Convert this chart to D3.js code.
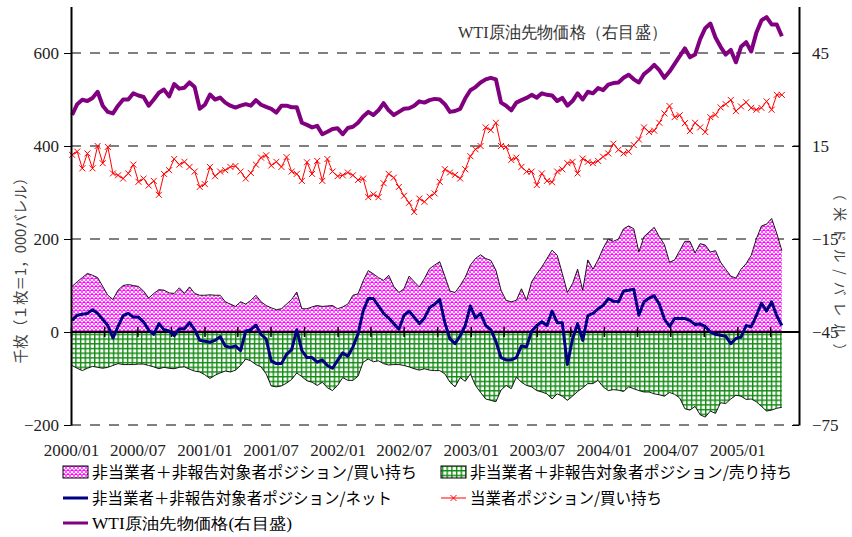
<!DOCTYPE html>
<html lang="ja">
<head>
  <meta charset="UTF-8">
  <title>非当業者・当業者ポジションとWTI原油先物価格</title>
  <script src="https://d3js.org/d3.v7.min.js"></script>
  <style>
    body { margin: 0; background: #fff; }
    svg { display: block; }
  </style>
</head>
<body>
  <div id="chart"></div>
  <script>
    // 週次データ（2週間ごと）2000/01/04 から
    const startDate = new Date(2000, 0, 4);
    const stepDays = 14;

    // 非当業者＋非報告対象者 買い持ち（千枚）
    const nonCommLong = [
      98,108,117,126,122,117,98,79,70,90, 100,102,100,98,88,73,83,91,90,84,
      83,95,83,97,83,79,79,80,79,79, 65,60,55,65,60,68,79,65,57,52,
      48,50,60,70,86,50,50,54,
      57,55,56,57,50,54,60,79,82,110, 132,125,117,111,122,98,85,93,120,108,
      97,115,136,144,151,120,88,85,100,118, 144,158,166,158,154,133,90,68,65,68,
      93,68,108,125,140,158,176,165,
      126,85,104,135,90,155,135,155,180,200, 195,200,222,228,222,172,205,215,225,205,
      188,150,155,175,195,195,170,190,187,172, 175,150,135,120,116,135,147,165,200,228,
      232,244,212,175
    ];
    // 非当業者＋非報告対象者 売り持ち（千枚）
    const nonCommShort = [
      -72,-78,-83,-78,-74,-76,-78,-76,-72,-68, -70,-70,-70,-69,-69,-72,-75,-79,-76,-78,
      -79,-76,-75,-80,-84,-86,-92,-100,-93,-88, -84,-86,-82,-72,-58,-62,-70,-75,-90,-116,
      -118,-116,-110,-102,-88,-96,-105,-108,
      -115,-108,-120,-126,-115,-98,-104,-104,-95,-65, -58,-64,-62,-68,-71,-70,-70,-72,-75,-79,
      -82,-79,-82,-83,-83,-90,-108,-118,-98,-106, -90,-115,-130,-144,-147,-150,-125,-115,-122,-97,
      -108,-115,-118,-126,-129,-133,-144,-133,
      -138,-147,-138,-128,-120,-111,-111,-104,-118,-126, -124,-125,-128,-118,-122,-126,-129,-129,-133,-135,
      -138,-130,-134,-142,-165,-168,-160,-178,-183,-170, -175,-152,-154,-144,-136,-138,-145,-144,-150,-160,
      -170,-168,-164,-162
    ];
    // 非当業者＋非報告対象者 ネット（千枚）
    const nonCommNet = [
      25,36,38,40,48,40,27,14,-13,12, 35,40,32,32,22,4,-5,18,5,2,
      -8,7,7,20,5,-18,-20,-22,-18,-10, -30,-33,-30,-40,2,5,15,-5,-15,-62,
      -68,-68,-48,-38,5,-40,-55,-55,
      -65,-60,-72,-78,-61,-45,-52,-32,-4,45, 72,72,56,40,30,18,6,36,45,32,
      18,30,52,60,70,20,-15,-25,-8,14, 56,30,40,14,5,-20,-55,-60,-60,-55,
      -30,-32,2,14,22,14,45,20,
      20,-70,-15,18,-18,35,40,50,57,72, 66,65,88,90,92,36,65,73,78,60,
      28,12,29,29,29,25,16,17,12,0, -5,-7,-9,-25,-14,-11,14,11,35,62,
      45,65,35,14
    ];
    // 当業者 買い持ち（千枚）
    const commLong = [
      381,388,352,384,352,400,363,398,341,337, 330,341,360,323,330,315,325,295,340,348,
      372,360,366,355,345,312,318,355,335,345, 348,355,357,345,330,342,360,375,380,358,
      366,355,376,345,340,325,365,340,
      368,325,372,345,335,337,343,337,327,330, 290,296,290,320,340,332,312,293,278,258,
      287,280,291,298,323,350,343,338,330,350, 378,393,400,440,434,450,400,398,370,375,
      355,345,345,316,341,325,322,345,
      350,363,366,341,373,366,363,368,377,384, 405,392,384,388,402,414,440,430,433,450,
      470,486,462,466,449,432,450,440,430,462, 467,483,490,499,475,485,494,482,478,482,
      496,478,510,510
    ];
    // WTI原油先物価格（米ドル/バレル）
    const wtiPrice = [
      25.0,28.5,29.9,29.5,30.5,32.5,28.0,26.0,25.5,28.0, 30.0,30.0,32.0,31.3,30.8,28.0,30.0,32.2,33.2,31.0,
      35.0,33.5,33.8,35.5,34.0,27.0,28.3,31.6,30.0,30.6, 29.0,28.0,27.4,28.0,28.5,28.0,29.8,28.3,27.6,27.0,
      25.8,28.0,28.0,27.5,27.5,22.5,21.8,21.0,
      21.5,18.8,19.6,20.5,20.7,18.8,20.8,21.2,22.5,24.5, 26.0,25.0,26.5,28.8,26.5,25.0,26.0,27.0,27.2,28.0,
      29.4,29.0,29.8,30.2,30.0,28.5,26.0,26.3,27.0,30.4, 33.0,34.0,35.5,36.5,37.0,36.5,29.0,28.0,26.5,29.0,
      29.8,30.5,31.5,30.6,32.0,31.5,31.3,29.5,
      30.5,28.0,29.5,32.0,30.0,32.5,32.0,33.7,33.0,34.8, 35.3,35.5,37.0,38.0,36.5,35.5,38.2,39.5,41.2,39.5,
      37.0,39.0,41.5,44.0,46.5,43.6,44.5,49.5,53.0,54.5, 50.0,47.0,44.5,46.0,42.0,47.0,48.5,45.5,51.5,55.5,
      56.6,54.2,54.2,50.4
    ];

    const leftTicks = [-200, 0, 200, 400, 600];
    const rightTicks = [-75, -45, -15, 15, 45];
    const gridValues = [-200, 200, 400, 600];

    const legendItems = [
      { label: "非当業者＋非報告対象者ポジション/買い持ち", type: "pink", col: 0, row: 0, len: 325 },
      { label: "非当業者＋非報告対象者ポジション/売り持ち", type: "green", col: 1, row: 0, len: 322 },
      { label: "非当業者＋非報告対象者ポジション/ネット", type: "net", col: 0, row: 1, len: 300 },
      { label: "当業者ポジション/買い持ち", type: "comm", col: 1, row: 1, len: 192 },
      { label: "WTI原油先物価格(右目盛)", type: "wti", col: 0, row: 2, len: 200 }
    ];

    const width = 852, height = 537;
    const plotLeft = 71, plotRight = 799, plotTop = 6.5, plotBottom = 425;
    const serif = "'Liberation Serif','Times New Roman',serif";
    const jp = "'Noto Sans CJK JP','Noto Sans',sans-serif";

    const dates = nonCommLong.map((_, i) => d3.timeDay.offset(startDate, stepDays * i));
    const rows = dates.map((d, i) => ({
      date: d, long: nonCommLong[i], short: nonCommShort[i],
      net: nonCommNet[i], comm: commLong[i], wti: wtiPrice[i]
    }));

    // スケール
    const x = d3.scaleTime()
      .domain([new Date(2000, 0, 1), new Date(2005, 5, 19)])
      .range([plotLeft, plotRight]);
    const yL = d3.scaleLinear().domain([-200, 700]).range([plotBottom, plotTop]);
    const yR = d3.scaleLinear().domain([-75, 60]).range([plotBottom, plotTop]);

    const svg = d3.select("#chart").append("svg")
      .attr("width", width).attr("height", height);
    svg.append("rect").attr("width", width).attr("height", height).attr("fill", "#fff");

    // 塗りパターン
    const defs = svg.append("defs");
    const pink = defs.append("pattern").attr("id", "pinkPat")
      .attr("patternUnits", "userSpaceOnUse").attr("width", 4).attr("height", 4);
    pink.append("rect").attr("width", 4).attr("height", 4).attr("fill", "#ff00ff");
    pink.append("path").attr("d", "M0,0L4,4M4,0L0,4")
      .attr("stroke", "#fff").attr("stroke-width", 1.15);

    const green = defs.append("pattern").attr("id", "greenPat")
      .attr("patternUnits", "userSpaceOnUse").attr("width", 4.7).attr("height", 4.7);
    green.append("rect").attr("width", 4.7).attr("height", 4.7).attr("fill", "#fff");
    green.append("path").attr("d", "M0,0.7H4.7M0.7,0V4.7")
      .attr("stroke", "#118a11").attr("stroke-width", 1.4);

    // グリッド線（破線）
    svg.append("g").selectAll("line").data(gridValues).join("line")
      .attr("x1", plotLeft).attr("x2", plotRight)
      .attr("y1", d => yL(d)).attr("y2", d => yL(d))
      .attr("stroke", "#000").attr("stroke-width", 1)
      .attr("stroke-dasharray", "10,9");

    // 買い持ち・売り持ちの面
    const areaLong = d3.area().x(d => x(d.date)).y0(yL(0)).y1(d => yL(d.long));
    const areaShort = d3.area().x(d => x(d.date)).y0(yL(0)).y1(d => yL(d.short));
    svg.append("path").datum(rows).attr("d", areaLong).attr("fill", "url(#pinkPat)");
    svg.append("path").datum(rows).attr("d", areaShort).attr("fill", "url(#greenPat)");

    svg.append("path").datum(rows)
      .attr("d", d3.line().x(d => x(d.date)).y(d => yL(d.long)))
      .attr("fill", "none").attr("stroke", "#000").attr("stroke-width", 0.9);
    svg.append("path").datum(rows)
      .attr("d", d3.line().x(d => x(d.date)).y(d => yL(d.short)))
      .attr("fill", "none").attr("stroke", "#000").attr("stroke-width", 0.9);

    // ゼロ線と目盛
    svg.append("line")
      .attr("x1", plotLeft).attr("x2", plotRight)
      .attr("y1", yL(0)).attr("y2", yL(0))
      .attr("stroke", "#000").attr("stroke-width", 2);
    svg.append("g")
      .attr("transform", `translate(0,${yL(0) + 5})`)
      .call(d3.axisTop(x).ticks(d3.timeMonth.every(3)).tickSize(10).tickFormat(""))
      .call(g => g.select(".domain").remove())
      .selectAll("line").attr("stroke-width", 1.5);

    // ネット
    svg.append("path").datum(rows)
      .attr("d", d3.line().x(d => x(d.date)).y(d => yL(d.net)))
      .attr("fill", "none").attr("stroke", "#000080").attr("stroke-width", 3)
      .attr("stroke-linejoin", "round");

    // 当業者 買い持ち
    svg.append("path").datum(rows)
      .attr("d", d3.line().x(d => x(d.date)).y(d => yL(d.comm)))
      .attr("fill", "none").attr("stroke", "#ff0000").attr("stroke-width", 1);
    svg.append("g").selectAll("path").data(rows).join("path")
      .attr("transform", d => `translate(${x(d.date)},${yL(d.comm)})`)
      .attr("d", "M-3,-3L3,3M-3,3L3,-3")
      .attr("stroke", "#ff0000").attr("stroke-width", 1);

    // WTI（右目盛）
    svg.append("path").datum(rows)
      .attr("d", d3.line().x(d => x(d.date)).y(d => yR(d.wti)))
      .attr("fill", "none").attr("stroke", "#800080").attr("stroke-width", 4)
      .attr("stroke-linejoin", "round");

    // 軸
    const styleAxis = g => g.attr("font-family", serif).attr("font-size", 17)
      .call(s => s.selectAll("text").attr("fill", "#222"));

    svg.append("g").attr("transform", `translate(${plotLeft},0)`)
      .call(d3.axisLeft(yL).tickValues(leftTicks).tickSizeInner(7).tickSizeOuter(0).tickPadding(5))
      .call(styleAxis)
      .call(g => g.select(".domain").attr("stroke-width", 2));

    svg.append("g").attr("transform", `translate(${plotRight},0)`)
      .call(d3.axisRight(yR).tickValues(rightTicks).tickSizeInner(-7).tickSizeOuter(0).tickPadding(13))
      .call(styleAxis)
      .call(g => g.select(".domain").attr("stroke-width", 2));

    svg.append("g").attr("transform", `translate(0,${plotBottom})`)
      .call(d3.axisBottom(x).ticks(d3.timeMonth.every(6))
        .tickFormat(d3.timeFormat("%Y/%m")).tickSize(0).tickPadding(19))
      .call(styleAxis)
      .call(g => g.select(".domain").remove());

    // 軸タイトル
    svg.append("text")
      .attr("transform", "translate(26,267) rotate(-90)")
      .attr("text-anchor", "middle")
      .attr("font-family", jp).attr("font-size", 15).attr("fill", "#444")
      .attr("textLength", 193).attr("lengthAdjust", "spacingAndGlyphs")
      .text("千枚（１枚＝1，000バレル）");

    svg.append("text")
      .attr("transform", "translate(835,272) rotate(90)")
      .attr("text-anchor", "middle")
      .attr("font-family", jp).attr("font-size", 14).attr("fill", "#444")
      .attr("textLength", 171).attr("lengthAdjust", "spacing")
      .text("（米ドル/バレル）");

    // 注記
    svg.append("text")
      .attr("x", 458).attr("y", 38)
      .attr("font-family", serif).attr("font-size", 17).attr("fill", "#333")
      .attr("textLength", 209).attr("lengthAdjust", "spacingAndGlyphs")
      .text("WTI原油先物価格（右目盛）");

    // 凡例
    const colX = [63, 441];
    const rowY = [472, 498, 523];
    const lg = svg.append("g");
    legendItems.forEach(item => {
      const sx = colX[item.col], cy = rowY[item.row];
      if (item.type === "pink" || item.type === "green") {
        lg.append("rect").attr("x", sx).attr("y", cy - 6).attr("width", 25).attr("height", 12)
          .attr("fill", item.type === "pink" ? "url(#pinkPat)" : "url(#greenPat)")
          .attr("stroke", "#000").attr("stroke-width", 1);
      } else {
        const color = { net: "#000080", comm: "#ff0000", wti: "#800080" }[item.type];
        lg.append("line").attr("x1", sx).attr("x2", sx + 25).attr("y1", cy).attr("y2", cy)
          .attr("stroke", color).attr("stroke-width", item.type === "comm" ? 1 : 3);
        if (item.type === "comm") {
          lg.append("path").attr("transform", `translate(${sx + 12.5},${cy})`)
            .attr("d", "M-3,-3L3,3M-3,3L3,-3").attr("stroke", color).attr("stroke-width", 1);
        }
      }
      lg.append("text")
        .attr("x", sx + 29).attr("y", cy + 6)
        .attr("font-family", item.type === "wti" ? serif : jp)
        .attr("font-size", 16).attr("fill", "#000")
        .attr("textLength", item.len).attr("lengthAdjust", "spacingAndGlyphs")
        .text(item.label);
    });
  </script>
</body>
</html>
